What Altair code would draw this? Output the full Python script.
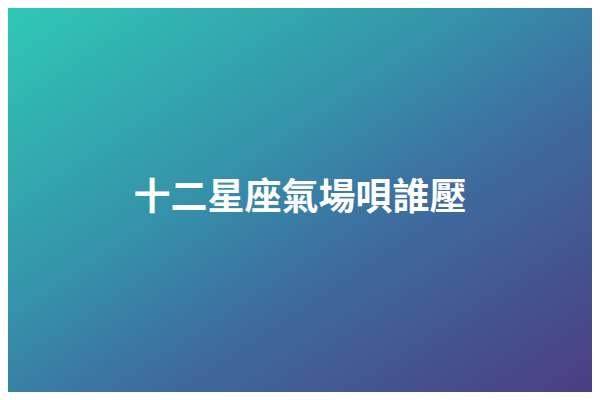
import altair as alt
import pandas as pd

titles = ["十二星座氣場唄誰壓"]
gradient_colors = ["#2fc8b6", "#3592aa", "#3d6ea0", "#4b3d84"]
gradient_offsets = [0.0, 0.4, 0.6, 1.0]

W, H = 584, 384

df = pd.DataFrame({"label": titles})

bg = alt.Chart(df).mark_rect(
    color=alt.Gradient(
        gradient="linear",
        stops=[alt.GradientStop(color=c, offset=o) for c, o in zip(gradient_colors, gradient_offsets)],
        x1=0, y1=0, x2=1, y2=1,
    )
).encode(
    x=alt.value(0), x2=alt.value(W), y=alt.value(0), y2=alt.value(H)
)

text = alt.Chart(df).mark_text(
    font="Noto Sans CJK TC",
    fontSize=37,
    fontWeight="bold",
    color="white",
    align="center",
    baseline="middle",
).encode(
    text="label:N",
    x=alt.value(W / 2),
    y=alt.value(H / 2 - 1),
)

chart = alt.layer(bg, text).properties(
    width=W, height=H, padding=0
).configure_view(
    strokeWidth=0,
)

chart.save("out.html", embed_options={"renderer": "svg", "actions": False})
